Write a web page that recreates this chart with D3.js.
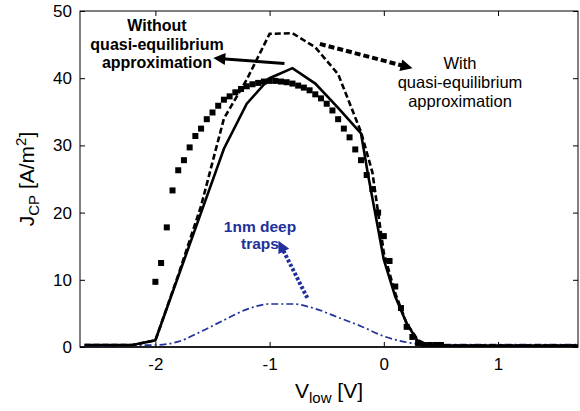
<!DOCTYPE html>
<html><head><meta charset="utf-8">
<script src="https://cdn.jsdelivr.net/npm/d3@7"></script>
<style>html,body{margin:0;padding:0;background:#fff;}svg{display:block;font-family:Arial,"Liberation Sans",sans-serif;}</style>
</head><body><svg id="c" width="580" height="411"></svg>
<script>
// ---- data ----
const xTicks = [-2, -1, 0, 1];
const yTicks = [0, 10, 20, 30, 40, 50];

// measured squares (V, J)
const squaresV = [-2.0,-1.95,-1.9,-1.85,-1.8,-1.75,-1.7,-1.65,-1.6,-1.55,-1.5,-1.45,-1.4,-1.35,-1.3,-1.25,-1.2,-1.15,-1.1,-1.05,-1.0,-0.95,-0.9,-0.85,-0.8,-0.75,-0.7,-0.65,-0.6,-0.55,-0.5,-0.45,-0.4,-0.35,-0.3,-0.25,-0.2,-0.15,-0.1,-0.05,0.0,0.05,0.1,0.15,0.2,0.25,0.3,0.35,0.4,0.45,0.5];
const squaresJ = [9.7,12.5,17.8,23.3,26.3,27.8,29.7,31.4,32.5,33.9,34.9,35.9,36.8,37.3,37.9,38.4,38.8,39.1,39.3,39.5,39.6,39.6,39.5,39.4,39.2,38.9,38.6,38.2,37.6,37.0,36.2,35.2,33.9,32.5,31.2,29.4,27.8,25.6,23.5,20.0,16.5,12.8,9.0,5.8,3.0,1.5,0.6,0.3,0.3,0.3,0.3];

// without quasi-equilibrium (solid)
const solidV = [-2.62,-2.2,-2.0,-1.8,-1.6,-1.4,-1.2,-1.0,-0.8,-0.6,-0.4,-0.2,-0.14,0.0,0.1,0.2,0.3,0.35,1.7];
const solidJ = [0.3,0.3,1.0,10.5,20.0,29.5,36.2,40.0,41.5,39.2,35.6,31.8,25.8,13.0,7.5,3.5,0.8,0.2,0.2];

// with quasi-equilibrium (dashed)
const dashedV = [-2.62,-2.2,-2.0,-1.8,-1.6,-1.4,-1.2,-1.0,-0.8,-0.6,-0.4,-0.2,-0.1,0.0,0.1,0.2,0.3,0.4,1.7];
const dashedJ = [0.3,0.3,1.0,10.7,21.0,34.0,39.8,46.6,46.7,44.6,40.6,32.0,26.0,14.0,8.0,3.5,1.0,0.2,0.2];

// 1nm deep traps (blue dash-dot)
const trapsV = [-2.62,-2.0,-1.8,-1.6,-1.4,-1.2,-1.0,-0.8,-0.6,-0.4,-0.2,0.0,0.2,0.4,1.7];
const trapsJ = [0.2,0.3,0.8,2.3,4.0,5.6,6.4,6.4,5.7,4.4,3.1,1.6,0.7,0.35,0.35];

// annotations (data units)
const noteWithout = ["Without", "quasi-equilibrium", "approximation"];
const noteWith = ["With", "quasi-equilibrium", "approximation"];
const noteTraps = ["1nm deep", "traps"];
const arrowWithout = [[-0.87, 42.2], [-1.42, 42.9]];
const arrowWith = [[-0.56, 45.1], [0.18, 41.8]];
const arrowTraps = [[-0.67, 7.3], [-0.89, 14.7]];

// ---- chart ----
const svg = d3.select("#c");
const L = 80, R = 578, T = 11, B = 347;
const x = d3.scaleLinear().domain([-2.66, 1.70]).range([L, R]);
const y = d3.scaleLinear().domain([0, 50]).range([B, T]);
const blue = "#21309a";

const defs = svg.append("defs");
defs.append("clipPath").attr("id","clip").append("rect").attr("x",L).attr("y",T).attr("width",R-L).attr("height",B-T);
function marker(id, color, w, h){
  defs.append("marker").attr("id",id).attr("viewBox","0 0 10 10").attr("refX",3).attr("refY",5)
    .attr("markerWidth",w).attr("markerHeight",h).attr("orient","auto").attr("markerUnits","userSpaceOnUse")
    .append("path").attr("d","M0,0 L10,5 L0,10 Z").attr("fill",color);
}
marker("ahBlack","#000",14,12);
marker("ahBlue",blue,12,12);

// frame
svg.append("rect").attr("x",L).attr("y",T).attr("width",R-L).attr("height",B-T)
  .attr("fill","none").attr("stroke","#000").attr("stroke-width",1);
svg.append("line").attr("x1",L).attr("x2",R).attr("y1",B).attr("y2",B).attr("stroke","#000").attr("stroke-width",1.6);

// axes (ticks inside)
const axB = d3.axisBottom(x).tickValues(xTicks).tickSizeInner(-5).tickSizeOuter(0).tickPadding(11).tickFormat(d3.format("d"));
const axL = d3.axisLeft(y).tickValues(yTicks).tickSizeInner(-5).tickSizeOuter(0).tickPadding(8);
const axT = d3.axisTop(x).tickValues(xTicks).tickSizeInner(-5).tickSizeOuter(0).tickFormat("");
const axR = d3.axisRight(y).tickValues(yTicks).tickSizeInner(-5).tickSizeOuter(0).tickFormat("");
function styleAxis(g){ g.select(".domain").remove(); g.selectAll("line").attr("stroke","#000");
  g.selectAll("text").attr("font-size",17).attr("fill","#000").attr("font-family","Arial, 'Liberation Sans', sans-serif"); }
svg.append("g").attr("transform",`translate(0,${B})`).call(axB).call(styleAxis);
svg.append("g").attr("transform",`translate(${L},0)`).call(axL).call(styleAxis);
svg.append("g").attr("transform",`translate(0,${T})`).call(axT).call(styleAxis);
svg.append("g").attr("transform",`translate(${R},0)`).call(axR).call(styleAxis);
// minus sign shown as hyphen, as in the reference
svg.selectAll("text").each(function(){ const t=d3.select(this); t.text(t.text().replace("\u2212","-")); });

// axis titles
const xt = svg.append("text").attr("x",(L+R)/2).attr("y",398).attr("text-anchor","middle").attr("font-size",21).attr("fill","#000");
xt.append("tspan").text("V");
xt.append("tspan").attr("font-size",15).attr("dy",5).text("low");
xt.append("tspan").attr("dy",-5).text(" [V]");
const yt = svg.append("text").attr("transform",`translate(34,${(T+B)/2}) rotate(-90)`).attr("text-anchor","middle").attr("font-size",21).attr("fill","#000");
yt.append("tspan").text("J");
yt.append("tspan").attr("font-size",15).attr("dy",5).text("CP");
yt.append("tspan").attr("dy",-5).text(" [A/m");
yt.append("tspan").attr("font-size",15).attr("dy",-8).text("2");
yt.append("tspan").attr("dy",8).text("]");

// series
const plot = svg.append("g").attr("clip-path","url(#clip)");
const line = d3.line().x(d=>x(d[0])).y(d=>y(d[1]));
const zip = (a,b)=>a.map((v,i)=>[v,b[i]]);

plot.append("path").datum(zip(trapsV,trapsJ)).attr("d",line.curve(d3.curveMonotoneX))
  .attr("fill","none").attr("stroke",blue).attr("stroke-width",1.7).attr("stroke-dasharray","7,3,2,3");
line.curve(d3.curveLinear);
plot.append("path").datum(zip(dashedV,dashedJ)).attr("d",line)
  .attr("fill","none").attr("stroke","#000").attr("stroke-width",2.6).attr("stroke-dasharray","6,3");
plot.append("path").datum(zip(solidV,solidJ)).attr("d",line)
  .attr("fill","none").attr("stroke","#000").attr("stroke-width",2.6);
plot.selectAll("rect.sq").data(zip(squaresV,squaresJ)).join("rect").attr("class","sq")
  .attr("x",d=>x(d[0])-3).attr("y",d=>y(d[1])-3).attr("width",6).attr("height",6).attr("fill","#000");

// arrows
function arrow(pts, color, w, dash, mk){
  const p = svg.append("line").attr("x1",x(pts[0][0])).attr("y1",y(pts[0][1]))
    .attr("x2",x(pts[1][0])).attr("y2",y(pts[1][1])).attr("stroke",color).attr("stroke-width",w)
    .attr("marker-end",`url(#${mk})`);
  if(dash) p.attr("stroke-dasharray",dash);
}
arrow(arrowWithout,"#000",3,null,"ahBlack");
arrow(arrowWith,"#000",4,"6,3","ahBlack");
arrow(arrowTraps,blue,4,"3,2","ahBlue");

// notes
function note(lines, cx, base0, dy, size, weight, color){
  const t = svg.append("text").attr("text-anchor","middle").attr("font-size",size).attr("font-weight",weight).attr("fill",color);
  lines.forEach((s,i)=>t.append("tspan").attr("x",cx).attr("y",base0+i*dy).text(s));
}
note(noteWithout, 157, 31, 18.5, 16, "bold", "#000");
note(noteWith, 460, 69, 19, 16.5, "normal", "#000");
note(noteTraps, 260, 232, 16.5, 15.5, "bold", blue);
</script></body></html>
